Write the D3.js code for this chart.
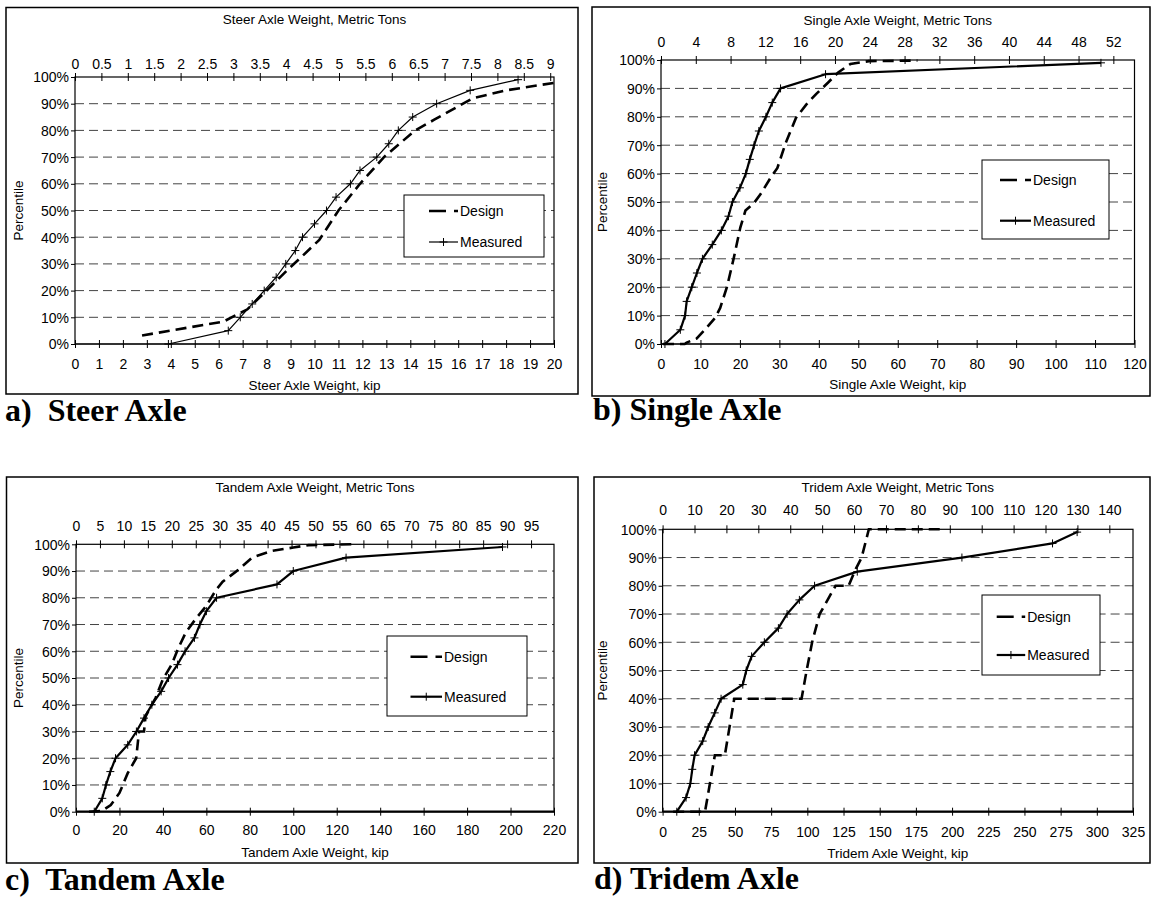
<!DOCTYPE html>
<html>
<head>
<meta charset="utf-8">
<script src="https://cdn.jsdelivr.net/npm/d3@7"></script>
<style>
  body { margin: 0; background: #fff; }
  svg text { font-family: "Liberation Sans", Arial, sans-serif; fill: #000; }
  svg text.cap { font-family: "Liberation Serif", "Times New Roman", serif; font-weight: bold; }
</style>
</head>
<body>
<svg width="1153" height="903"></svg>
<script>
const KIP_PER_TON = 2.20462;

// shared percentile levels
const pctTicks = [0, 10, 20, 30, 40, 50, 60, 70, 80, 90, 100];
const measuredPct = [0, 5, 10, 15, 20, 25, 30, 35, 40, 45, 50, 55, 60, 65, 70, 75, 80, 85, 90, 95, 99];

// a) steer axle
const steerKipTicks = [0, 1, 2, 3, 4, 5, 6, 7, 8, 9, 10, 11, 12, 13, 14, 15, 16, 17, 18, 19, 20];
const steerTonTicks = [0, 0.5, 1, 1.5, 2, 2.5, 3, 3.5, 4, 4.5, 5, 5.5, 6, 6.5, 7, 7.5, 8, 8.5, 9];
const steerMeasuredKip = [3.9, 6.4, 6.9, 7.4, 7.9, 8.4, 8.8, 9.2, 9.5, 10.0, 10.5, 10.9, 11.5, 11.9, 12.6, 13.1, 13.5, 14.1, 15.1, 16.5, 18.5];
const steerDesignKip = [2.8, 6.2, 7.2, 8.0, 8.9, 9.5, 10.2, 11.0, 11.9, 12.9, 14.2, 15.0, 16.0, 16.6, 18.0, 20.0];
const steerDesignPct = [3.2, 8.4, 13, 20, 28, 33, 39, 50, 60, 70, 80, 84, 89, 92, 95, 97.8];

// b) single axle
const singleKipTicks = [0, 10, 20, 30, 40, 50, 60, 70, 80, 90, 100, 110, 120];
const singleTonTicks = [0, 4, 8, 12, 16, 20, 24, 28, 32, 36, 40, 44, 48, 52];
const singleMeasuredKip = [1.0, 4.9, 6.1, 6.5, 7.8, 9.1, 10.5, 13.0, 15.3, 17.1, 18.1, 20.0, 21.5, 22.5, 23.6, 24.8, 26.6, 28.2, 30.3, 41.7, 111.5];
const singleDesignKip = [0.5, 6.0, 6.5, 9.0, 11.5, 13.7, 15.0, 16.7, 18.4, 20.1, 21.4, 23.5, 25.2, 27.8, 29.5, 31.6, 34.2, 36.8, 39.3, 42.3, 44.9, 48.0, 52.7, 65.0];
const singleDesignPct = [0, 0, 0.5, 1.9, 5.6, 9.2, 12.7, 20, 30, 41, 47, 49.5, 52.7, 58.6, 62, 70.8, 79.6, 84.3, 88, 92, 95.6, 98.6, 99.6, 99.8];

// c) tandem axle
const tandemKipTicks = [0, 20, 40, 60, 80, 100, 120, 140, 160, 180, 200, 220];
const tandemTonTicks = [0, 5, 10, 15, 20, 25, 30, 35, 40, 45, 50, 55, 60, 65, 70, 75, 80, 85, 90, 95];
const tandemMeasuredKip = [8.4, 12.1, 13.8, 15.8, 18.2, 23.8, 27.8, 31.3, 34.9, 39.2, 42.6, 46.7, 50.2, 54.5, 57.0, 60.0, 64.7, 92.5, 100.0, 124.3, 196.3];
const tandemDesignKip = [6, 12, 16, 20, 23.8, 27.7, 29, 31.3, 32, 36.6, 40, 44, 47, 50.5, 55, 60, 64.5, 67.5, 74, 81, 90, 100, 107, 127];
const tandemDesignPct = [0, 0.3, 2.5, 7, 14.4, 20, 30, 30, 35.6, 42.5, 49.5, 55, 61, 67, 72, 77, 83, 86, 90, 95, 97.5, 98.8, 99.7, 100];

// d) tridem axle
const tridemKipTicks = [0, 25, 50, 75, 100, 125, 150, 175, 200, 225, 250, 275, 300, 325];
const tridemTonTicks = [0, 10, 20, 30, 40, 50, 60, 70, 80, 90, 100, 110, 120, 130, 140];
const tridemMeasuredKip = [9.8, 16.2, 19.2, 20.5, 22.1, 27.7, 31.5, 36.0, 40.4, 55.4, 57.8, 61.5, 70.3, 80.0, 86.0, 94.5, 105.0, 134.5, 206.8, 269.4, 286.4];
const tridemDesignKip = [7.3, 29.3, 36.1, 43, 49.5, 96, 99.5, 103.3, 108.5, 114, 119.5, 128.5, 133.5, 137.5, 142.5, 195];
const tridemDesignPct = [0, 0, 20, 20, 40, 40, 50, 60, 70, 75, 80, 80, 86, 90, 100, 100];

const panels = [
  { name: "a)  Steer Axle", capX: 5, capY: 421,
    box: [6, 7.5, 578, 394], plot: [75, 77, 554, 344],
    kipMax: 20, kipTicks: steerKipTicks, tonTicks: steerTonTicks,
    topTitle: "Steer Axle Weight, Metric Tons", botTitle: "Steer Axle Weight, kip",
    topLab: 13.4, topTit: 57.7, botLab: 20, botTit: 41, ytX: 18.5,
    measured: steerMeasuredKip, designKip: steerDesignKip, designPct: steerDesignPct,
    lineW: 1.2, axisW: 1.2,
    legend: [404, 195, 140, 62], legRows: [16, 47], legLine: [25, 54] },
  { name: "b) Single Axle", capX: 593, capY: 420,
    box: [592, 7, 1150, 396], plot: [661, 60, 1134.5, 344],
    kipMax: 120, kipTicks: singleKipTicks, tonTicks: singleTonTicks,
    topTitle: "Single Axle Weight, Metric Tons", botTitle: "Single Axle Weight, kip",
    topLab: 18.3, topTit: 40, botLab: 20, botTit: 40, ytX: 602,
    measured: singleMeasuredKip, designKip: singleDesignKip, designPct: singleDesignPct,
    lineW: 2.2, axisW: 1.2,
    legend: [982, 160, 127, 79], legRows: [20, 60.7], legLine: [18, 49] },
  { name: "c)  Tandem Axle", capX: 5, capY: 890,
    box: [6.5, 477, 578, 863], plot: [76, 544.3, 554, 811.7],
    kipMax: 220, kipTicks: tandemKipTicks, tonTicks: tandemTonTicks,
    topTitle: "Tandem Axle Weight, Metric Tons", botTitle: "Tandem Axle Weight, kip",
    topLab: 18.3, topTit: 56.6, botLab: 18.3, botTit: 40.6, ytX: 18,
    measured: tandemMeasuredKip, designKip: tandemDesignKip, designPct: tandemDesignPct,
    lineW: 2.2, axisW: 2.2,
    legend: [387, 636, 140, 80], legRows: [20.7, 60.7], legLine: [23.5, 55] },
  { name: "d) Tridem Axle", capX: 594, capY: 889,
    box: [594, 477, 1150, 863], plot: [662.6, 529.3, 1133, 811.7],
    kipMax: 325, kipTicks: tridemKipTicks, tonTicks: tridemTonTicks,
    topTitle: "Tridem Axle Weight, Metric Tons", botTitle: "Tridem Axle Weight, kip",
    topLab: 19.3, topTit: 41.6, botLab: 20.3, botTit: 41.6, ytX: 602.7,
    measured: tridemMeasuredKip, designKip: tridemDesignKip, designPct: tridemDesignPct,
    lineW: 2.2, axisW: 2.2,
    legend: [982, 595, 118, 80], legRows: [21.7, 60], legLine: [14.7, 43.2] }
];

const svg = d3.select("svg");

function plus(sel) {
  sel.append("path")
    .attr("d", "M-4,0H4M0,-4V4")
    .attr("stroke", "#000")
    .attr("stroke-width", 1);
}

function drawPanel(p) {
  const g = svg.append("g");
  const [px0, py0, px1, py1] = p.plot;

  const x = d3.scaleLinear().domain([0, p.kipMax]).range([px0, px1]);
  const xTon = d3.scaleLinear().domain([0, p.kipMax / KIP_PER_TON]).range([px0, px1]);
  const y = d3.scaleLinear().domain([0, 100]).range([py1, py0]);

  // outer frame
  g.append("rect")
    .attr("x", p.box[0]).attr("y", p.box[1])
    .attr("width", p.box[2] - p.box[0]).attr("height", p.box[3] - p.box[1])
    .attr("fill", "none").attr("stroke", "#000").attr("stroke-width", 1.5);

  // dashed gridlines
  g.selectAll(".grid")
    .data(pctTicks.filter(d => d > 0 && d < 100))
    .join("line")
    .attr("x1", px0).attr("x2", px1)
    .attr("y1", d => y(d)).attr("y2", d => y(d))
    .attr("stroke", "#444").attr("stroke-width", 1)
    .attr("stroke-dasharray", "9,5");

  // plot border
  g.append("rect")
    .attr("x", px0).attr("y", py0)
    .attr("width", px1 - px0).attr("height", py1 - py0)
    .attr("fill", "none").attr("stroke", "#000").attr("stroke-width", 1.2);
  g.append("line")
    .attr("x1", px0).attr("x2", px1).attr("y1", py1).attr("y2", py1)
    .attr("stroke", "#000").attr("stroke-width", p.axisW);

  // bottom axis (kip)
  g.append("g")
    .attr("transform", "translate(0," + py1 + ")")
    .call(d3.axisBottom(x).tickValues(p.kipTicks).tickSize(4).tickFormat(d => d))
    .call(a => {
      a.select(".domain").remove();
      a.selectAll("line").attr("y1", -4).attr("y2", 4);
      a.selectAll("text").attr("y", p.botLab).attr("dy", "0.35em").style("font-size", "14px");
    });

  // top axis (metric tons)
  g.append("g")
    .attr("transform", "translate(0," + py0 + ")")
    .call(d3.axisTop(xTon).tickValues(p.tonTicks).tickSize(4).tickFormat(d => d))
    .call(a => {
      a.select(".domain").remove();
      a.selectAll("line").attr("y1", -4).attr("y2", 4);
      a.selectAll("text").attr("y", -p.topLab).attr("dy", "0.35em").style("font-size", "14px");
    });

  // left axis (percentile)
  g.append("g")
    .attr("transform", "translate(" + px0 + ",0)")
    .call(d3.axisLeft(y).tickValues(pctTicks).tickSize(4).tickPadding(2).tickFormat(d => d + "%"))
    .call(a => {
      a.select(".domain").remove();
      a.selectAll("text").attr("dy", "0.35em").style("font-size", "14px");
    });

  // axis titles
  g.append("text")
    .attr("x", (px0 + px1) / 2).attr("y", py0 - p.topTit).attr("dy", "0.35em")
    .attr("text-anchor", "middle").style("font-size", "13.5px")
    .text(p.topTitle);
  g.append("text")
    .attr("x", (px0 + px1) / 2).attr("y", py1 + p.botTit).attr("dy", "0.35em")
    .attr("text-anchor", "middle").style("font-size", "13.5px")
    .text(p.botTitle);
  g.append("text")
    .attr("transform", "translate(" + p.ytX + "," + (py0 + py1) / 2 + ") rotate(-90)")
    .attr("dy", "0.35em")
    .attr("text-anchor", "middle").style("font-size", "13.5px")
    .text("Percentile");

  // design curve
  const design = p.designKip.map((k, i) => [k, p.designPct[i]]);
  g.append("path")
    .datum(design)
    .attr("d", d3.line().x(d => x(d[0])).y(d => y(d[1])))
    .attr("fill", "none").attr("stroke", "#000")
    .attr("stroke-width", 2.6).attr("stroke-dasharray", "11,6");

  // measured curve
  const measured = p.measured.map((k, i) => [k, measuredPct[i]]);
  g.append("path")
    .datum(measured)
    .attr("d", d3.line().x(d => x(d[0])).y(d => y(d[1])))
    .attr("fill", "none").attr("stroke", "#000")
    .attr("stroke-width", p.lineW).attr("stroke-linejoin", "round");
  g.selectAll(".mk")
    .data(measured)
    .join("g")
    .attr("transform", d => "translate(" + x(d[0]) + "," + y(d[1]) + ")")
    .call(plus);

  // legend
  const [lx, ly, lw, lh] = p.legend;
  const lg = g.append("g").attr("transform", "translate(" + lx + "," + ly + ")");
  lg.append("rect")
    .attr("width", lw).attr("height", lh)
    .attr("fill", "#fff").attr("stroke", "#000").attr("stroke-width", 1);
  lg.append("line")
    .attr("x1", p.legLine[0]).attr("x2", p.legLine[1])
    .attr("y1", p.legRows[0]).attr("y2", p.legRows[0])
    .attr("stroke", "#000").attr("stroke-width", 2.6).attr("stroke-dasharray", "17,8");
  lg.append("text")
    .attr("x", p.legLine[1] + 2).attr("y", p.legRows[0]).attr("dy", "0.35em")
    .style("font-size", "14px").text("Design");
  lg.append("line")
    .attr("x1", p.legLine[0]).attr("x2", p.legLine[1])
    .attr("y1", p.legRows[1]).attr("y2", p.legRows[1])
    .attr("stroke", "#000").attr("stroke-width", p.lineW);
  lg.append("g")
    .attr("transform", "translate(" + (p.legLine[0] + p.legLine[1]) / 2 + "," + p.legRows[1] + ")")
    .call(plus);
  lg.append("text")
    .attr("x", p.legLine[1] + 2).attr("y", p.legRows[1]).attr("dy", "0.35em")
    .style("font-size", "14px").text("Measured");

  // caption under panel
  svg.append("text")
    .attr("class", "cap")
    .attr("x", p.capX).attr("y", p.capY)
    .style("font-size", "32px")
    .style("white-space", "pre")
    .attr("xml:space", "preserve")
    .text(p.name);
}

panels.forEach(drawPanel);
</script>
</body>
</html>
